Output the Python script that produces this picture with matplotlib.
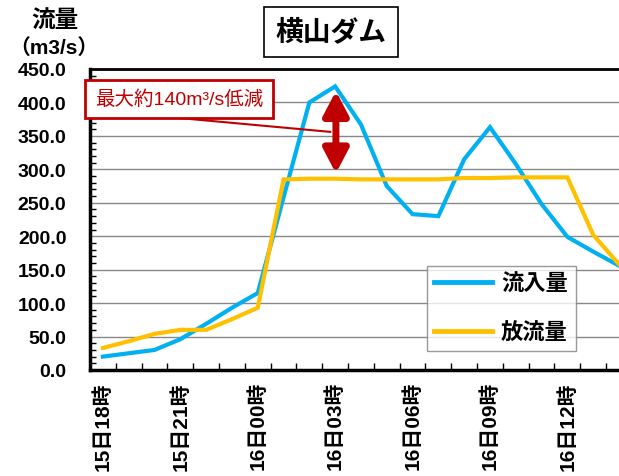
import matplotlib
matplotlib.use("Agg")
import matplotlib.pyplot as plt
from matplotlib.ticker import MultipleLocator, FixedLocator

plt.rcParams["font.family"] = ["Liberation Sans", "Noto Sans CJK JP"]
plt.rcParams["font.weight"] = "bold"

# hourly times, 15日18時 .. 16日14時
times = [f"15日{h:02d}時" for h in range(18, 24)] + [f"16日{h:02d}時" for h in range(0, 15)]
inflow = [20, 25, 30, 46, 69, 93, 115, 258, 400, 424, 367, 275, 233, 230,
          315, 363, 308, 248, 199, 177, 156]
outflow = [33, 43, 54, 60, 60, 76, 93, 285, 286, 286, 285, 285, 285, 285,
           287, 287, 288, 288, 288, 202, 158]
label_every = 3

BLUE = "#00B0F0"
ORANGE = "#FFC000"
RED = "#C00000"

W, H = 619, 477
fig = plt.figure(figsize=(W / 100, H / 100), dpi=100)
ax = fig.add_axes([90 / W, (H - 371) / H, 529 / W, 301 / H])

x = list(range(len(times)))
ax.plot(x, inflow, color=BLUE, lw=3, label="流入量", zorder=3, solid_joinstyle="miter")
ax.plot(x, outflow, color=ORANGE, lw=3, label="放流量", zorder=3, solid_joinstyle="miter")

ax.set_xlim(-0.5, 20.0)
ax.set_ylim(0, 450)
ax.yaxis.set_major_locator(MultipleLocator(50))
ax.yaxis.set_minor_locator(MultipleLocator(10))
ax.yaxis.set_major_formatter(lambda v, p: f"{v:.1f}")
ax.grid(axis="y", color="#888888", lw=1)
ax.set_axisbelow(True)

ax.set_xticks(x[::label_every])
ax.set_xticklabels(times[::label_every], rotation=90, fontsize=15, fontweight="bold")
ax.xaxis.set_minor_locator(FixedLocator([i + 0.5 for i in x]))
ax.tick_params(axis="x", which="major", length=0, pad=8)
ax.tick_params(axis="x", which="minor", direction="in", length=5, width=1)
ax.tick_params(axis="y", which="major", direction="in", length=0, pad=17, labelsize=14)
ax.tick_params(axis="y", which="minor", direction="in", length=4, width=1)
for lab in ax.get_yticklabels():
    lab.set_fontweight("bold")

for side in ("left", "bottom"):
    ax.spines[side].set_linewidth(2.5)
ax.spines["top"].set_linewidth(2)
ax.spines["right"].set_visible(False)

# reduction annotation
ax.plot([2.6, 8.81], [378, 356], color=RED, lw=1.5, zorder=4)
ax.text(2.95, 405, "最大約140m³/s低減", color=RED, fontsize=14, fontweight="normal",
        ha="center", va="center", zorder=5,
        bbox=dict(boxstyle="square,pad=0.5", fc="white", ec=RED, lw=2))
ax.annotate("", xy=(9.03, 417), xytext=(9.03, 294),
            arrowprops=dict(arrowstyle="<|-|>,head_length=0.8,head_width=0.42",
                            mutation_scale=18, lw=5, color=RED, shrinkA=0, shrinkB=0),
            zorder=5)

leg = ax.legend(loc="center", bbox_to_anchor=(0.777, 0.204), fontsize=16,
                handlelength=2.6, labelspacing=1.25, fancybox=False,
                borderpad=0.35, handletextpad=0.4, borderaxespad=0)
leg.get_frame().set_edgecolor("#808080")
leg.get_frame().set_linewidth(1)
for t in leg.get_texts():
    t.set_fontweight("bold")
for line in leg.get_lines():
    line.set_linewidth(3.5)

fig.text(55 / W, 1 - 21 / H, "流量", fontsize=17, ha="center", va="center")
fig.text(54 / W, 1 - 48 / H, "（m3/s）", fontsize=15, ha="center", va="center")
fig.text(331 / W, 1 - 33 / H, "横山ダム", fontsize=20, ha="center", va="center",
         bbox=dict(boxstyle="square,pad=0.4", fc="white", ec="black", lw=1.2))

fig.savefig("out.png", dpi=100)
